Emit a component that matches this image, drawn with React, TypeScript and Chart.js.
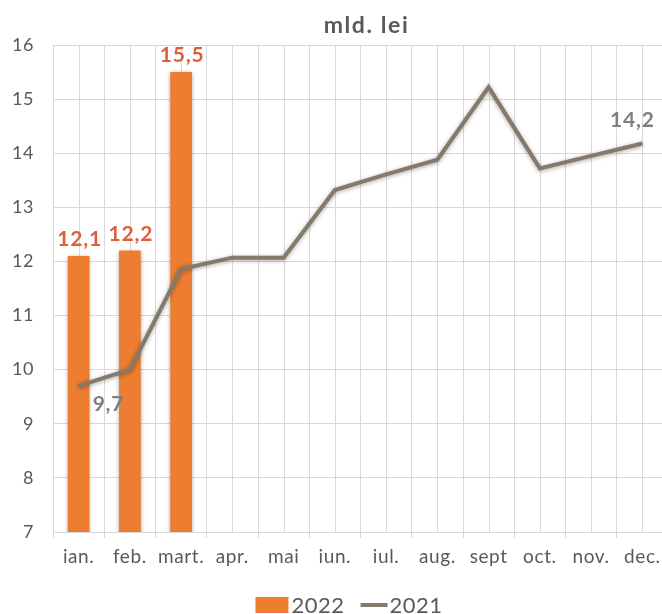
import React, { useEffect, useRef } from "react";
import { Chart, registerables } from "chart.js";

Chart.register(...registerables);

const months = ["ian.", "feb.", "mart.", "apr.", "mai", "iun.", "iul.", "aug.", "sept", "oct.", "nov.", "dec."];
const values2022 = [12.1, 12.2, 15.5, null, null, null, null, null, null, null, null, null];
const values2021 = [9.7, 10.0, 11.86, 12.07, 12.07, 13.32, 13.61, 13.88, 15.22, 13.72, 13.95, 14.18];
const lineLabelIdx = [0, 11];
const titleText = "mld. lei";
const yMin = 7;
const yMax = 16;

const BAR_COLOR = "#ED7D31";
const LINE_COLOR = "#857A6A";
const GRID = "#D9D9D9";
const TEXT = "#595959";
const FONT = "Lato, 'Open Sans', sans-serif";

const fmt = (v: number) => v.toFixed(1).replace(".", ",");

const decorPlugin = {
  id: "decor",
  beforeDraw(chart: any) {
    chart.ctx.letterSpacing = "0.6px";
  },
  beforeDatasetsDraw(chart: any) {
    const { ctx, chartArea, scales } = chart;
    const x = scales.x;
    ctx.save();
    ctx.strokeStyle = GRID;
    ctx.lineWidth = 1;
    for (let i = 0; i < months.length; i++) {
      const px = Math.round(x.getPixelForValue(i)) + 0.5;
      ctx.beginPath();
      ctx.moveTo(px, chartArea.top);
      ctx.lineTo(px, chartArea.bottom);
      ctx.stroke();
    }
    ctx.restore();
  },
  beforeDatasetDraw(chart: any) {
    const ctx = chart.ctx;
    ctx.save();
    ctx.shadowColor = "rgba(0,0,0,0.35)";
    ctx.shadowBlur = 4;
    ctx.shadowOffsetX = 0;
    ctx.shadowOffsetY = 1;
  },
  afterDatasetDraw(chart: any) {
    chart.ctx.restore();
  },
  afterDraw(chart: any) {
    const { ctx, chartArea } = chart;
    ctx.save();
    // title
    ctx.fillStyle = TEXT;
    ctx.letterSpacing = "1.6px";
    ctx.font = `bold 23px ${FONT}`;
    ctx.textAlign = "center";
    ctx.textBaseline = "alphabetic";
    ctx.fillText(titleText, (chartArea.left + chartArea.right) / 2 + 6, 33);

    // bar labels
    ctx.letterSpacing = "0.8px";
    const barMeta = chart.getDatasetMeta(1);
    ctx.font = `bold 21px ${FONT}`;
    ctx.fillStyle = "#DC5F3A";
    barMeta.data.forEach((el: any, i: number) => {
      const v = values2022[i];
      if (v == null) return;
      ctx.textAlign = "center";
      ctx.fillText(fmt(v), el.x + 1, el.y - 10);
    });

    // line labels
    const lineMeta = chart.getDatasetMeta(0);
    ctx.fillStyle = "#7F7F7F";
    lineLabelIdx.forEach((i) => {
      const el = lineMeta.data[i];
      const v = values2021[i];
      if (i === 0) {
        ctx.textAlign = "left";
        ctx.fillText(fmt(v), el.x + 14, el.y + 25);
      } else {
        ctx.textAlign = "center";
        ctx.fillText(fmt(v), el.x - 10, el.y - 16);
      }
    });

    // legend
    ctx.letterSpacing = "0.5px";
    ctx.font = `22px ${FONT}`;
    ctx.textAlign = "left";
    ctx.fillStyle = TEXT;
    const lbl1 = chart.data.datasets[1].label;
    const lbl2 = chart.data.datasets[0].label;
    const w1 = ctx.measureText(lbl1).width;
    const w2 = ctx.measureText(lbl2).width;
    const box = 33;
    const total = box + 3 + w1 + 16 + 27 + 2 + w2;
    let lx = 349 - total / 2;
    const baseY = 613;
    ctx.fillStyle = BAR_COLOR;
    ctx.fillRect(lx, 597, box, 16);
    lx += box + 3;
    ctx.fillStyle = TEXT;
    ctx.fillText(lbl1, lx, baseY);
    lx += w1 + 16;
    ctx.strokeStyle = LINE_COLOR;
    ctx.lineWidth = 4;
    ctx.beginPath();
    ctx.moveTo(lx, 605);
    ctx.lineTo(lx + 27, 605);
    ctx.stroke();
    lx += 29;
    ctx.fillText(lbl2, lx, baseY);
    ctx.restore();
  },
};

export default function App() {
  const ref = useRef<HTMLCanvasElement>(null);
  useEffect(() => {
    if (!ref.current) return;
    const chart = new Chart(ref.current, {
      type: "bar",
      data: {
        labels: months,
        datasets: [
          {
            type: "line",
            label: "2021",
            data: values2021,
            borderColor: LINE_COLOR,
            backgroundColor: LINE_COLOR,
            borderWidth: 4,
            pointRadius: 0,
            tension: 0,
            order: 1,
          } as any,
          {
            type: "bar",
            label: "2022",
            data: values2022,
            backgroundColor: BAR_COLOR,
            borderWidth: 0,
            categoryPercentage: 1,
            barPercentage: 0.424,
            order: 2,
          } as any,
        ],
      },
      options: {
        responsive: false,
        animation: false,
        layout: { padding: { top: 45, left: 0, right: 0, bottom: 0 } },
        plugins: {
          legend: { display: false },
          title: { display: false },
          tooltip: { enabled: false },
        },
        scales: {
          x: {
            offset: true,
            grid: {
              offset: true,
              color: GRID,
              lineWidth: 1,
              drawTicks: true,
              tickLength: 6,
              tickColor: GRID,
            },
            border: { color: GRID },
            ticks: {
              color: TEXT,
              font: { family: FONT, size: 19 },
              padding: 7,
              maxRotation: 0,
              autoSkip: false,
            },
            afterFit: (s: any) => {
              s.height = 82;
            },
          },
          y: {
            min: yMin,
            max: yMax,
            grid: { color: GRID, drawTicks: false },
            border: { color: GRID },
            ticks: {
              stepSize: 1,
              color: TEXT,
              font: { family: FONT, size: 18 },
              padding: 19,
            },
            afterFit: (s: any) => {
              s.width = 53;
            },
          },
        },
      },
      plugins: [decorPlugin],
    });
    return () => chart.destroy();
  }, []);
  return (
    <div style={{ position: "fixed", left: 0, top: 0, width: 662, height: 614, overflow: "hidden", background: "#fff" }}>
      <canvas ref={ref} width={668} height={614} style={{ display: "block" }} />
    </div>
  );
}
